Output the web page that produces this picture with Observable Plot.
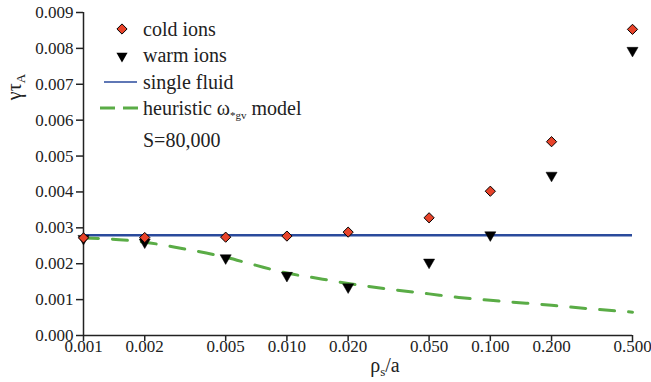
<!DOCTYPE html>
<html><head><meta charset="utf-8">
<script src="https://cdn.jsdelivr.net/npm/d3@7"></script>
<script src="https://cdn.jsdelivr.net/npm/@observablehq/plot@0.6"></script>
<style>body{margin:0;background:#fff}</style>
</head><body><div id="chart"></div>
<script>
const xTicks = [0.001,0.002,0.005,0.010,0.020,0.050,0.100,0.200,0.500];
const yTicks = [0,0.001,0.002,0.003,0.004,0.005,0.006,0.007,0.008,0.009];
const rho = [0.001,0.002,0.005,0.010,0.020,0.050,0.100,0.200,0.500];
const coldIons = [0.00272,0.00273,0.00274,0.00277,0.00288,0.00328,0.00402,0.00540,0.00853];
const warmIons = [0.00270,0.00260,0.00216,0.00167,0.00135,0.00204,0.00280,0.00446,0.00794];
const singleFluid = 0.00279;
const heurX = [0.001,0.0015,0.002,0.003,0.005,0.007,0.01,0.015,0.02,0.03,0.05,0.07,0.1,0.15,0.2,0.3,0.5];
const heurY = [0.00272,0.00267,0.00260,0.00243,0.00218,0.00196,0.00174,0.00157,0.00145,0.00131,0.00116,0.00106,0.00098,0.00090,0.00084,0.00075,0.00065];

const cold = rho.map((x,i)=>({x, y: coldIons[i]}));
const warm = rho.map((x,i)=>({x, y: warmIons[i]}));
const heur = heurX.map((x,i)=>({x, y: heurY[i]}));
const fmt = d3.format(".3f");
const FONT = "Liberation Serif";

const plot = Plot.plot({
  width: 651, height: 382,
  marginLeft: 83, marginRight: 19, marginTop: 12, marginBottom: 47,
  style: {fontFamily: FONT, fontSize: "17px", color: "#222", background: "#fff"},
  x: {type: "log", domain: [0.001, 0.5], axis: null},
  y: {domain: [0, 0.009], axis: null},
  marks: [
    Plot.ruleX(xTicks, {x: d => d, y1: 0, y2: 0, insetBottom: -6, stroke: "#222", strokeWidth: 1.5}),
    Plot.text(xTicks, {x: d => d, frameAnchor: "bottom", dy: 16, text: d => fmt(d), fontSize: 17, fill: "#222"}),
    Plot.axisY(yTicks, {tickFormat: fmt, tickSize: 7, tickPadding: 3, label: null, fontSize: 17, stroke: "#222", strokeWidth: 1.5}),
    Plot.ruleX([0.001], {stroke: "#222", strokeWidth: 1.5}),
    Plot.ruleY([0], {stroke: "#222", strokeWidth: 1.5}),
    Plot.ruleY([singleFluid], {stroke: "#2a4a9c", strokeWidth: 2.5}),
    Plot.line(heur, {x: "x", y: "y", curve: "monotone-x", stroke: "#5aac46", strokeWidth: 3, strokeDasharray: "15,14"}),
    Plot.dot(warm, {x: "x", y: "y", symbol: "triangle2", rotate: 180, r: 5.3, fill: "#000", stroke: "#000", strokeWidth: 0.5}),
    Plot.dot(cold, {x: "x", y: "y", symbol: "diamond2", r: 4.6, fill: "#e8432a", stroke: "#000", strokeWidth: 1})
  ]
});
document.getElementById("chart").appendChild(plot);

const svg = d3.select(plot);
const g = svg.append("g").attr("fill", "#222").attr("text-anchor", "start").attr("font-family", FONT);
g.append("path").attr("d", d3.symbol(d3.symbolDiamond2, Math.PI*4.6*4.6)()).attr("transform","translate(122,29)").attr("fill","#e8432a").attr("stroke","#000");
g.append("path").attr("d", d3.symbol(d3.symbolTriangle2, Math.PI*5.3*5.3)()).attr("transform","translate(122,56) rotate(180)").attr("fill","#000");
g.append("line").attr("x1",104).attr("x2",137).attr("y1",82).attr("y2",82).attr("stroke","#2a4a9c").attr("stroke-width",1.5);
g.append("line").attr("x1",100).attr("x2",138).attr("y1",108).attr("y2",108).attr("stroke","#5aac46").attr("stroke-width",3).attr("stroke-dasharray","15,8");
const ls = 20;
g.append("text").attr("x",143).attr("y",36).attr("font-size",ls).text("cold ions");
g.append("text").attr("x",143).attr("y",62).attr("font-size",ls).text("warm ions");
g.append("text").attr("x",143).attr("y",89).attr("font-size",ls).text("single fluid");
const ht = g.append("text").attr("x",143).attr("y",115).attr("font-size",ls);
ht.append("tspan").text("heuristic ω");
ht.append("tspan").attr("font-size",11).attr("dy",4).text("*gv");
ht.append("tspan").attr("dy",-4).text(" model");
g.append("text").attr("x",143).attr("y",147).attr("font-size",ls).text("S=80,000");
const yl = g.append("text").attr("transform","translate(21,87) rotate(-90)").attr("text-anchor","middle").attr("font-size",20);
yl.append("tspan").text("γτ");
yl.append("tspan").attr("font-size",13).attr("dy",4).text("A");
const xl = g.append("text").attr("x",385).attr("y",372).attr("text-anchor","middle").attr("font-size",20);
xl.append("tspan").text("ρ");
xl.append("tspan").attr("font-size",13).attr("dy",4).text("s");
xl.append("tspan").attr("dy",-4).text("/a");
</script>
</body></html>
